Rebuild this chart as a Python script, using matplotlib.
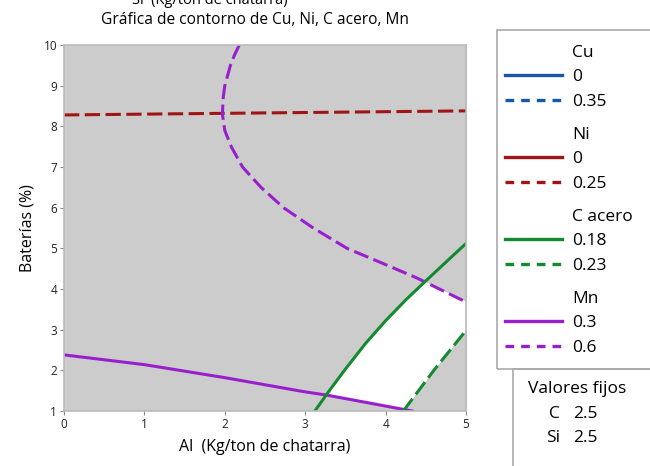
import numpy as np
import matplotlib.pyplot as plt
from matplotlib.colors import ListedColormap
from matplotlib.lines import Line2D
from matplotlib.patches import Rectangle

plt.rcParams['font.family'] = ['Open Sans', 'DejaVu Sans']

# contour lines
ni_025_x = [0.0, 5.0]
ni_025_y = [8.28, 8.38]

mn_03_x = [0.0, 1.0, 2.0, 3.0, 3.27, 4.33]
mn_03_y = [2.38, 2.14, 1.82, 1.47, 1.39, 1.0]

mn_06_y = [10.0, 9.75, 9.5, 9.0, 8.7, 8.3, 7.9, 7.5, 7.0, 6.5, 6.0, 5.5, 5.0, 4.6, 4.27, 3.68]
mn_06_x = [2.18, 2.12, 2.07, 2.0, 1.98, 1.97, 2.0, 2.08, 2.22, 2.45, 2.73, 3.1, 3.52, 4.0, 4.39, 5.0]

c_018_x = [3.12, 3.3, 3.5, 3.75, 4.0, 4.25, 4.5, 4.75, 5.0]
c_018_y = [1.0, 1.5, 2.03, 2.66, 3.22, 3.73, 4.2, 4.66, 5.12]

c_023_x = [4.22, 4.6, 5.0]
c_023_y = [1.0, 2.0, 2.98]

legend_groups = [
    ('Cu', '#1a56a8', ['0', '0.35']),
    ('Ni', '#a01414', ['0', '0.25']),
    ('C acero', '#138a30', ['0.18', '0.23']),
    ('Mn', '#9a1fcc', ['0.3', '0.6']),
]
fixed_names = ['C', 'Si']
fixed_vals = ['2.5', '2.5']

blue, red, green, purple = [g[1] for g in legend_groups]

fig = plt.figure(figsize=(6.5, 4.66), dpi=100)
ax = fig.add_axes([64 / 650, 55 / 466, 402 / 650, 366 / 466])
ax.set_facecolor('#cccccc')

# feasible (white) region from the four bounding contours
gx, gy = np.meshgrid(np.linspace(0, 5, 800), np.linspace(1, 10, 800))
ok = (gx >= np.interp(gy, c_018_y, c_018_x)) & (gx <= np.interp(gy, c_023_y, c_023_x))
ok &= gy >= np.interp(gx, mn_03_x, mn_03_y)
low_y = mn_06_y[5:][::-1]
low_x = mn_06_x[5:][::-1]
ok &= gx <= np.interp(gy, low_y, low_x)
ax.imshow(ok.astype(float), extent=[0, 5, 1, 10], origin='lower', aspect='auto',
          cmap=ListedColormap(['#cccccc', 'white']), vmin=0, vmax=1, interpolation='nearest')

lw = 2.2
dash = (5, 1.8)
ax.plot(ni_025_x, ni_025_y, color=red, lw=lw, dashes=dash)
ax.plot(mn_03_x, mn_03_y, color=purple, lw=lw)
ax.plot(mn_06_x, mn_06_y, color=purple, lw=lw, dashes=dash)
ax.plot(c_018_x, c_018_y, color=green, lw=lw)
ax.plot(c_023_x, c_023_y, color=green, lw=lw, dashes=dash)

ax.set_xlim(0, 5)
ax.set_ylim(1, 10)
ax.set_xticks(range(0, 6))
ax.set_yticks(range(1, 11))
ax.tick_params(labelsize=8.5, length=3, color='#888888', pad=2, labelcolor='#222222')
for s in ax.spines.values():
    s.set_color('#bbbbbb')
    s.set_linewidth(1.2)
ax.set_xlabel('Al  (Kg/ton de chatarra)', fontsize=11.5, labelpad=6)
ax.set_ylabel('Baterías (%)', fontsize=11.5, labelpad=6)

fig.text(255 / 650, 1 - 20 / 466, 'Gráfica de contorno de Cu, Ni, C acero, Mn',
         ha='center', va='center', fontsize=11.2)
fig.text(210 / 650, 1 - 4 / 466, 'Si  (Kg/ton de chatarra)', ha='center', va='baseline',
         fontsize=10.5)

# legend panel
fig.patches.append(Rectangle((497 / 650, 1 - 369 / 466), 160 / 650, 339 / 466,
                             transform=fig.transFigure, fill=False, ec='#aaaaaa', lw=1.2))
ypos = 53
fs = 12.5
for name, col, levels in legend_groups:
    fig.text(572 / 650, 1 - ypos / 466, name, va='center', fontsize=fs)
    ypos += 24
    for k, lev in enumerate(levels):
        ls = '-' if k == 0 else (0, (2.6, 2.1))
        fig.add_artist(Line2D([505 / 650, 562 / 650], [1 - (ypos - 2) / 466] * 2,
                              transform=fig.transFigure, color=col, lw=2.4, ls=ls))
        fig.text(572 / 650, 1 - ypos / 466, lev, va='center', fontsize=fs)
        ypos += 25
    ypos += 8

fig.patches.append(Rectangle((513 / 650, 1 - 480 / 466), 150 / 650, 111 / 466,
                             transform=fig.transFigure, fill=False, ec='#aaaaaa', lw=1.2))
fig.text(577 / 650, 1 - 389 / 466, 'Valores fijos', ha='center', va='center', fontsize=fs)
for i, (n, v) in enumerate(zip(fixed_names, fixed_vals)):
    y = 1 - (414 + 24 * i) / 466
    fig.text(560 / 650, y, n, ha='right', va='center', fontsize=fs)
    fig.text(573 / 650, y, v, ha='left', va='center', fontsize=fs)

fig.savefig('out.png', dpi=100)
